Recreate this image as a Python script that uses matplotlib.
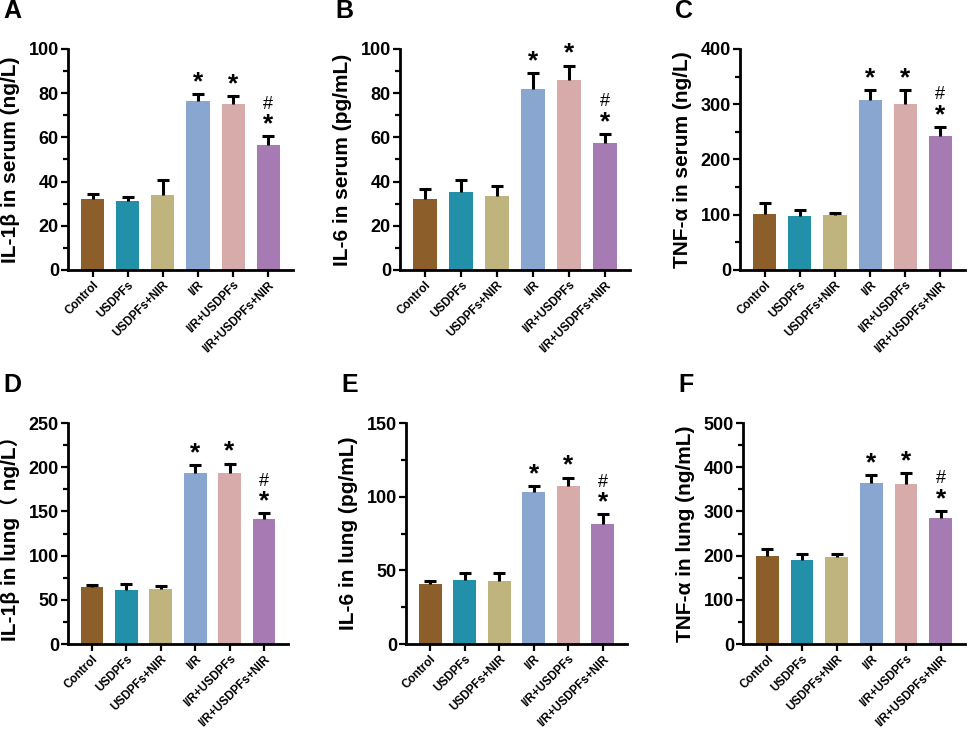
import numpy as np
import matplotlib
matplotlib.use('Agg')
import matplotlib.pyplot as plt
from matplotlib.ticker import MultipleLocator

plt.rcParams['font.family'] = ['Liberation Sans', 'Noto Sans CJK SC', 'DejaVu Sans']
plt.rcParams['font.weight'] = 'bold'

groups = ['Control', 'USDPFs', 'USDPFs+NIR', 'I/R', 'I/R+USDPFs', 'I/R+USDPFs+NIR']
colors = ['#8c5f2a', '#2190a8', '#bfb47e', '#88a6cf', '#d6abaa', '#a67ab3']

# means and upper error (SD) per panel
il1b_serum = [32, 31, 34, 76.5, 75, 56.5]
il1b_serum_err = [2.5, 2, 6.5, 3, 3.5, 4]
il6_serum = [32, 35.5, 33.5, 82, 86, 57.5]
il6_serum_err = [4.5, 5, 4.5, 7, 6.5, 4]
tnf_serum = [102, 97, 99, 308, 300, 243]
tnf_serum_err = [20, 12, 5, 18, 26, 16]
il1b_lung = [64, 61, 62, 194, 193, 141]
il1b_lung_err = [3, 7, 4, 8, 11, 7]
il6_lung = [40.5, 43.5, 43, 103, 107, 81.5]
il6_lung_err = [2, 5, 5, 4, 6, 6.5]
tnf_lung = [199, 191, 197, 365, 363, 284]
tnf_lung_err = [16, 12, 7, 17, 23, 17]

# significance marks per bar
marks = ['', '', '', '*', '*', '#*']

panels = [
    ('A', 'IL-1β in serum (ng/L)', il1b_serum, il1b_serum_err, 100, 20, [0.0702, 0.6317, 0.232, 0.3015]),
    ('B', 'IL-6 in serum (pg/mL)', il6_serum, il6_serum_err, 100, 20, [0.4128, 0.6317, 0.2374, 0.3015]),
    ('C', 'TNF-α in serum (ng/L)', tnf_serum, tnf_serum_err, 400, 100, [0.7637, 0.6317, 0.2322, 0.3015]),
    ('D', 'IL-1β in lung\uff08 ng/L\uff09', il1b_lung, il1b_lung_err, 250, 50, [0.0702, 0.1214, 0.227, 0.3015]),
    ('E', 'IL-6 in lung (pg/mL)', il6_lung, il6_lung_err, 150, 50, [0.419, 0.1214, 0.228, 0.3015]),
    ('F', 'TNF-α in lung (ng/mL)', tnf_lung, tnf_lung_err, 500, 100, [0.7668, 0.1214, 0.229, 0.3015]),
]

fig = plt.figure(figsize=(9.69, 7.33), dpi=100)

for letter, ylabel, vals, errs, ymax, step, pos in panels:
    ax = fig.add_axes(pos)
    x = np.arange(len(groups))
    ax.bar(x, vals, width=0.66, color=colors, zorder=2)
    _, caps, _ = ax.errorbar(x, vals, yerr=[np.zeros(len(errs)), errs], fmt='none',
                             ecolor='black', elinewidth=2.2, capsize=4, capthick=2.2, zorder=3)
    caps[0].set_visible(False)  # upper half only
    for xi, v, e, m in zip(x, vals, errs, marks):
        top = v + e
        if '*' in m:
            ax.annotate('*', (xi, top), xytext=(0, 0), textcoords='offset points',
                        ha='center', va='bottom', fontsize=19, fontweight='bold')
        if '#' in m:
            ax.annotate('#', (xi, top), xytext=(0, 17), textcoords='offset points',
                        ha='center', va='bottom', fontsize=13, fontweight='normal')
    ax.set_xlim(-0.7, 5.7)
    ax.set_ylim(0, ymax)
    ax.yaxis.set_major_locator(MultipleLocator(step))
    ax.yaxis.set_minor_locator(MultipleLocator(step / 2))
    ax.set_xticks(x)
    ax.set_xticklabels(groups, rotation=45, ha='right', rotation_mode='anchor',
                       fontsize=8.5, fontweight='bold')
    for lab in ax.get_yticklabels():
        lab.set_fontsize(13)
        lab.set_fontweight('bold')
    ax.set_ylabel(ylabel, fontsize=15, fontweight='bold', labelpad=6)
    ax.spines['top'].set_visible(False)
    ax.spines['right'].set_visible(False)
    ax.spines['left'].set_linewidth(2)
    ax.spines['bottom'].set_linewidth(2)
    ax.tick_params(axis='both', which='major', length=5, width=1.6, pad=1.5)
    ax.tick_params(axis='y', which='minor', length=3.5, width=1.6)
    fig.text(pos[0] - 0.067, pos[1] + pos[3] + 0.035, letter, fontsize=18,
             fontweight='bold', ha='left', va='bottom')

fig.savefig('out.png', dpi=100)
